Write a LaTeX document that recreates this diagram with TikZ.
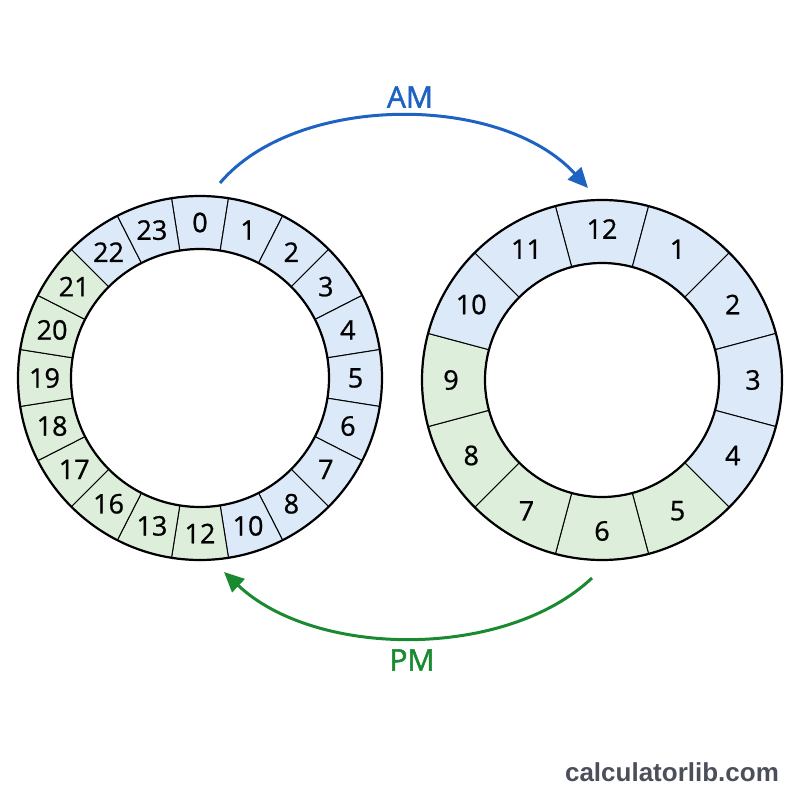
\documentclass[tikz,border=0pt]{standalone}
\usepackage{fontspec}
\setmainfont{Open Sans}
\newfontfamily\hourfont[FakeBold=0.8]{Open Sans}
\newfontfamily\halffont[FakeBold=1.6]{Open Sans}
\newfontfamily\markfont{Liberation Sans}
\usepackage{xcolor}
\usetikzlibrary{arrows.meta}

\definecolor{hourblue}{HTML}{DCE9F9}
\definecolor{hourgreen}{HTML}{DDEFDA}
\definecolor{amblue}{HTML}{1F63C2}
\definecolor{pmgreen}{HTML}{1A8A30}
\definecolor{markgray}{HTML}{4A4F5A}

\tikzset{
  hour/.style={font=\hourfont\fontsize{13.5}{15}\selectfont, inner sep=0pt},
  ringline/.style={line width=1.1pt},
  halfarrow/.style={line width=1.5pt, -{Triangle[length=10pt,width=9pt]}},
  halflabel/.style={font=\halffont\fontsize{15}{17}\selectfont}
}

\begin{document}
\begin{tikzpicture}[x=0.5pt, y=0.5pt]

    \useasboundingbox (0,0) rectangle (800,800);

    % Radii (in pixels of the 800x800 frame)
    \def\Lin{129}
    \def\Lout{182}
    \def\Rin{117}
    \def\Rout{180}

    % 24-hour ring: 20 equal sectors, 0 on top, clockwise
    \begin{scope}[shift={(200,422)}]
        \foreach \lbl/\col [count=\k from 0] in {0/hourblue,1/hourblue,2/hourblue,3/hourblue,4/hourblue,5/hourblue,6/hourblue,7/hourblue,8/hourblue,10/hourblue,12/hourgreen,13/hourgreen,16/hourgreen,17/hourgreen,18/hourgreen,19/hourgreen,20/hourgreen,21/hourgreen,22/hourblue,23/hourblue} {
            \pgfmathsetmacro\a{90-18*\k}
            \pgfmathsetmacro\s{\a+9}
            \pgfmathsetmacro\e{\a-9}
            \filldraw[fill=\col, line width=0.5pt] (\s:\Lin) -- (\s:\Lout)
                arc[start angle=\s, end angle=\e, radius=\Lout] -- (\e:\Lin)
                arc[start angle=\e, end angle=\s, radius=\Lin] -- cycle;
            \node[hour] (day\lbl) at (\a:155.5) {\lbl};
        }
        \draw[ringline] (0,0) circle[radius=\Lout];
        \draw[ringline] (0,0) circle[radius=\Lin];
    \end{scope}

    % 12-hour ring: 12 sectors, 12 on top
    \begin{scope}[shift={(602,420)}]
        \foreach \lbl/\col [count=\k from 0] in {12/hourblue,1/hourblue,2/hourblue,3/hourblue,4/hourblue,5/hourgreen,6/hourgreen,7/hourgreen,8/hourgreen,9/hourgreen,10/hourblue,11/hourblue} {
            \pgfmathsetmacro\a{90-30*\k}
            \pgfmathsetmacro\s{\a+15}
            \pgfmathsetmacro\e{\a-15}
            \filldraw[fill=\col, line width=0.5pt] (\s:\Rin) -- (\s:\Rout)
                arc[start angle=\s, end angle=\e, radius=\Rout] -- (\e:\Rin)
                arc[start angle=\e, end angle=\s, radius=\Rin] -- cycle;
            \node[hour] (half\lbl) at (\a:151) {\lbl};
        }
        \draw[ringline] (0,0) circle[radius=\Rout];
        \draw[ringline] (0,0) circle[radius=\Rin];
    \end{scope}

    % AM / PM arrows
    \coordinate (amstart) at (220,617);
    \coordinate (amend)   at (588,612);
    \coordinate (pmstart) at (592,222);
    \coordinate (pmend)   at (224,228);

    \draw[halfarrow, amblue] (amstart) .. controls (295,706) and (500,708) .. (amend);
    \draw[halfarrow, pmgreen] (pmstart) .. controls (505,140) and (315,142) .. (pmend);

    \node[halflabel, text=amblue]  (am) at (410,703) {AM};
    \node[halflabel, text=pmgreen] (pm) at (412,140) {PM};

    % Watermark
    \node[font=\markfont\bfseries\fontsize{13}{15}\selectfont, text=markgray] (mark) at (672,28) {calculatorlib.com};

\end{tikzpicture}
\end{document}
